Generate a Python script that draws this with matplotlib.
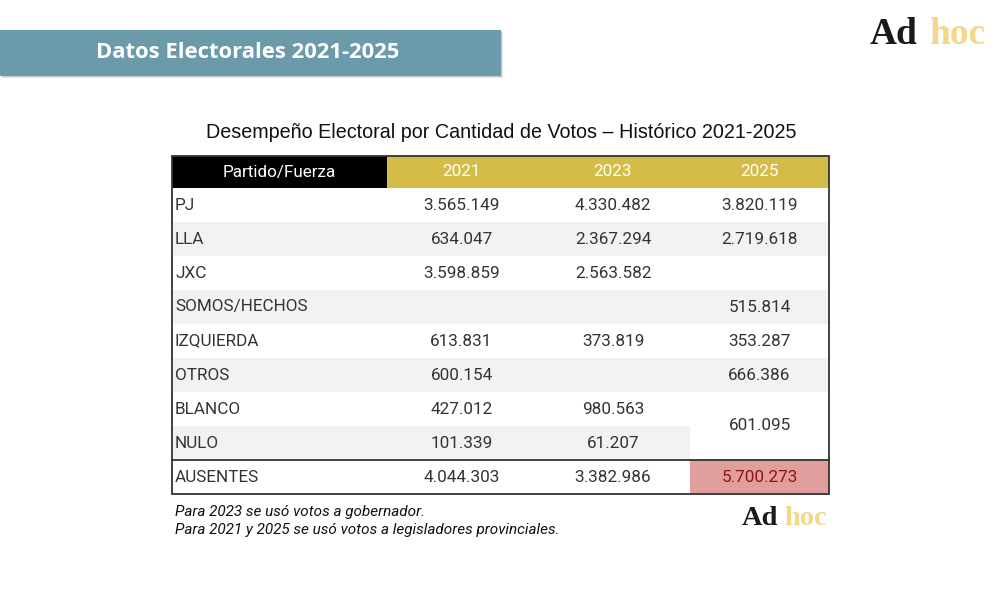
import matplotlib.pyplot as plt
from matplotlib.patches import Rectangle

# --- datos ---
partidos = ["PJ", "LLA", "JXC", "SOMOS/HECHOS", "IZQUIERDA", "OTROS", "BLANCO", "NULO", "AUSENTES"]
anios = ["2021", "2023", "2025"]
votos_2021 = [3565149, 634047, 3598859, None, 613831, 600154, 427012, 101339, 4044303]
votos_2023 = [4330482, 2367294, 2563582, None, 373819, None, 980563, 61207, 3382986]
votos_2025 = [3820119, 2719618, None, 515814, 353287, 666386, None, None, 5700273]
blanco_nulo_2025 = 601095  # celda combinada BLANCO + NULO

titulo = "Desempeño Electoral por Cantidad de Votos – Histórico 2021-2025"
banner = "Datos Electorales 2021-2025"
notas = ["Para 2023 se usó votos a gobernador.",
         "Para 2021 y 2025 se usó votos a legisladores provinciales."]

GOLD = "#d5bc48"
GRIS = "#f2f2f2"
BORDE = "#333333"
FS = 12.3


def fmt(v):
    if v is None:
        return ""
    return f"{v:,}".replace(",", ".")


fig = plt.figure(figsize=(10, 5.93), dpi=100)
ax = fig.add_axes([0, 0, 1, 1])
ax.set_xlim(0, 1000)
ax.set_ylim(593, 0)
ax.axis("off")

# banner con sombra
ax.add_patch(Rectangle((2, 32), 501, 46, color="#000000", alpha=0.10, lw=0))
ax.add_patch(Rectangle((1, 31), 501, 46, color="#000000", alpha=0.12, lw=0))
ax.add_patch(Rectangle((0, 30), 501, 46, color="#6b9bab", lw=0))
ax.text(248, 52, banner, color="white", fontsize=15.8, fontweight="bold",
        family="Open Sans", ha="center", va="center")


def logo(x, y, size, gap):
    t = ax.text(x, y, "Ad", fontsize=size, family="Liberation Serif", fontweight="bold",
                color="#1a1a1a", ha="left", va="baseline")
    fig.canvas.draw()
    bb = t.get_window_extent()
    x2 = ax.transData.inverted().transform((bb.x1, bb.y0))[0]
    ax.text(x2 + gap, y, "hoc", fontsize=size, family="Liberation Serif", fontweight="bold",
            color="#f3d88c", ha="left", va="baseline")


logo(870, 44, 27, 11)
logo(742, 525, 20.5, 6)

# titulo de la tabla
ax.text(501, 133, titulo, fontsize=14.2, family="Liberation Sans",
        ha="center", va="center", color="#111111")

# tabla
col_x = [172, 387, 536, 690, 829]
top = 156
h_head = 32
h_row = 34

# encabezado
ax.add_patch(Rectangle((col_x[0], top), col_x[1] - col_x[0], h_head, color="black", lw=0))
ax.add_patch(Rectangle((col_x[1], top), col_x[4] - col_x[1], h_head, color=GOLD, lw=0))
ax.text((col_x[0] + col_x[1]) / 2, top + h_head / 2, "Partido/Fuerza", color="white",
        fontsize=FS, family="Roboto", ha="center", va="center")
for j, a in enumerate(anios):
    ax.text((col_x[j + 1] + col_x[j + 2]) / 2, top + h_head / 2, a, color="white",
            fontsize=FS, family="Roboto", ha="center", va="center")

columnas = [votos_2021, votos_2023, votos_2025]
for i, p in enumerate(partidos):
    y0 = top + h_head + i * h_row
    if i % 2 == 1 and p != "AUSENTES":
        ax.add_patch(Rectangle((col_x[0], y0), col_x[3] - col_x[0], h_row, color=GRIS, lw=0))
        if p != "NULO":
            ax.add_patch(Rectangle((col_x[3], y0), col_x[4] - col_x[3], h_row, color=GRIS, lw=0))
    if p == "AUSENTES":
        ax.add_patch(Rectangle((col_x[3], y0), col_x[4] - col_x[3], h_row, color="#e09e9d", lw=0))
    ax.text(col_x[0] + 3, y0 + h_row / 2, p, fontsize=FS, family="Roboto",
            ha="left", va="center", color="#333333")
    for j, col in enumerate(columnas):
        color = "#8b1414" if (p == "AUSENTES" and j == 2) else "#333333"
        ax.text((col_x[j + 1] + col_x[j + 2]) / 2, y0 + h_row / 2, fmt(col[i]),
                fontsize=FS, family="Roboto", ha="center", va="center", color=color)

# celda combinada BLANCO/NULO 2025
i_bl = partidos.index("BLANCO")
y_bl = top + h_head + i_bl * h_row
ax.text((col_x[3] + col_x[4]) / 2, y_bl + h_row, fmt(blanco_nulo_2025),
        fontsize=FS, family="Roboto", ha="center", va="center", color="#333333")

# bordes
bottom = top + h_head + len(partidos) * h_row
ax.add_patch(Rectangle((col_x[0], top), col_x[4] - col_x[0], bottom - top,
                       fill=False, edgecolor=BORDE, lw=1.3))
y_aus = top + h_head + partidos.index("AUSENTES") * h_row
ax.plot([col_x[0], col_x[4]], [y_aus, y_aus], color=BORDE, lw=1.3)

# notas
for k, n in enumerate(notas):
    ax.text(175, 512 + k * 18, n, fontsize=11, family="Roboto", style="italic",
            ha="left", va="center", color="#111111")

fig.savefig("out.png", dpi=100, facecolor="white")
